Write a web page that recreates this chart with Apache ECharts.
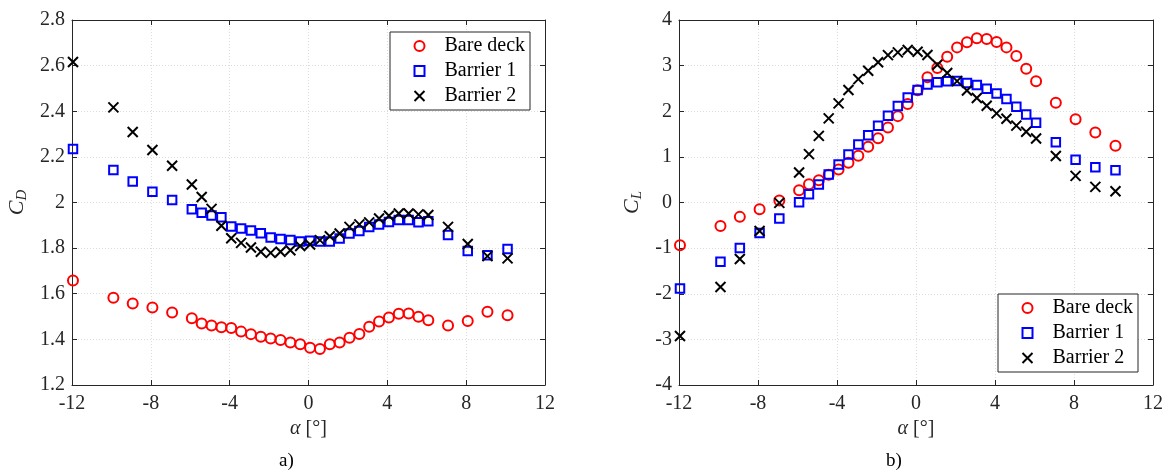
<!DOCTYPE html>
<html>
<head>
<meta charset="utf-8">
<script src="https://cdn.jsdelivr.net/npm/echarts@6/dist/echarts.min.js"></script>
<style>
  html, body { margin: 0; padding: 0; background: #fff; }
  #chart { width: 1168px; height: 474px; }
</style>
</head>
<body>
<div id="chart"></div>
<script>
// Angle of attack [deg] for every measured point
const alpha = [-11.95, -9.9, -8.92, -7.92, -6.92, -5.92, -5.42, -4.92, -4.42, -3.92,
  -3.42, -2.92, -2.42, -1.92, -1.42, -0.92, -0.42, 0.08, 0.58, 1.08,
  1.58, 2.08, 2.58, 3.08, 3.58, 4.08, 4.58, 5.08, 5.58, 6.08,
  7.08, 8.08, 9.08, 10.1];

// Drag coefficient C_D
const cdBare = [1.658, 1.582, 1.557, 1.540, 1.518, 1.493, 1.470, 1.461, 1.453, 1.450,
  1.434, 1.423, 1.411, 1.404, 1.397, 1.386, 1.379, 1.363, 1.358, 1.379,
  1.386, 1.407, 1.424, 1.455, 1.478, 1.496, 1.512, 1.513, 1.499, 1.484,
  1.461, 1.481, 1.521, 1.506];
const cdBarrier1 = [2.234, 2.143, 2.092, 2.047, 2.011, 1.970, 1.955, 1.943, 1.935, 1.895,
  1.886, 1.877, 1.865, 1.847, 1.840, 1.836, 1.829, 1.832, 1.829, 1.829,
  1.842, 1.864, 1.875, 1.893, 1.904, 1.915, 1.923, 1.923, 1.913, 1.918,
  1.858, 1.787, 1.769, 1.796];
const cdBarrier2 = [2.616, 2.417, 2.309, 2.230, 2.161, 2.079, 2.024, 1.972, 1.898, 1.843,
  1.823, 1.803, 1.784, 1.779, 1.784, 1.791, 1.809, 1.816, 1.835, 1.852,
  1.864, 1.893, 1.904, 1.913, 1.930, 1.942, 1.952, 1.952, 1.948, 1.945,
  1.893, 1.818, 1.765, 1.755];

// Lift coefficient C_L
const clBare = [-0.937, -0.515, -0.315, -0.147, 0.044, 0.27, 0.40, 0.489, 0.61, 0.722,
  0.87, 1.024, 1.22, 1.41, 1.645, 1.893, 2.157, 2.46, 2.745, 2.946,
  3.194, 3.40, 3.51, 3.598, 3.583, 3.517, 3.40, 3.21, 2.93, 2.66,
  2.186, 1.827, 1.535, 1.242];
const clBarrier1 = [-1.887, -1.30, -0.995, -0.667, -0.35, 0.007, 0.18, 0.395, 0.614, 0.834,
  1.053, 1.272, 1.476, 1.68, 1.90, 2.113, 2.30, 2.464, 2.585, 2.635,
  2.66, 2.665, 2.617, 2.573, 2.495, 2.39, 2.27, 2.10, 1.93, 1.746,
  1.323, 0.935, 0.774, 0.709];
const clBarrier2 = [-2.927, -1.852, -1.237, -0.623, -0.008, 0.658, 1.06, 1.461, 1.843, 2.172,
  2.464, 2.705, 2.887, 3.075, 3.23, 3.29, 3.341, 3.304, 3.232, 3.02,
  2.84, 2.661, 2.455, 2.29, 2.12, 1.953, 1.835, 1.685, 1.549, 1.404,
  1.02, 0.584, 0.342, 0.248];

const seriesNames = ['Bare deck', 'Barrier 1', 'Barrier 2'];
const xTicks = { min: -12, max: 12, interval: 4 };
const cdTicks = { min: 1.2, max: 2.8, interval: 0.2 };
const clTicks = { min: -4, max: 4, interval: 1 };

const FONT = 'Liberation Serif';
const AXIS_COLOR = '#262626';

const markerStyles = [
  { symbol: 'circle', symbolSize: 10, itemStyle: { color: 'none', borderColor: '#ff0000', borderWidth: 2, opacity: 1 } },
  { symbol: 'rect', symbolSize: 8.5, itemStyle: { color: 'none', borderColor: '#0000ff', borderWidth: 2, opacity: 1 } },
  { symbol: 'path://M0,0L10,10M10,0L0,10', symbolSize: 10, itemStyle: { color: 'none', borderColor: '#000000', borderWidth: 2, opacity: 1 } }
];

function pairs(ys) { return alpha.map((a, i) => [a, ys[i]]); }

function mainX(gridIndex) {
  return {
    type: 'value', gridIndex, position: 'bottom', ...xTicks,
    axisLine: { show: true, onZero: false, lineStyle: { color: AXIS_COLOR, width: 1 } },
    axisTick: { show: true, inside: true, length: 5, lineStyle: { color: AXIS_COLOR } },
    axisLabel: { show: true, margin: 9, fontFamily: FONT, fontSize: 20, color: AXIS_COLOR },
    splitLine: { show: true, lineStyle: { color: '#dcdcdc', type: [1, 2], width: 1 } },
    name: '{i|α} [°]', nameLocation: 'middle', nameGap: 34,
    nameTextStyle: {
      fontFamily: FONT, fontSize: 20, color: AXIS_COLOR,
      rich: { i: { fontFamily: FONT, fontStyle: 'italic', fontSize: 20, color: AXIS_COLOR } }
    }
  };
}
function boxX(gridIndex) {
  return {
    type: 'value', gridIndex, position: 'top', ...xTicks,
    axisLine: { show: true, onZero: false, lineStyle: { color: AXIS_COLOR, width: 1 } },
    axisTick: { show: true, inside: true, length: 5, lineStyle: { color: AXIS_COLOR } },
    axisLabel: { show: false }, splitLine: { show: false }
  };
}
function mainY(gridIndex, ticks, sub, gap) {
  return {
    type: 'value', gridIndex, position: 'left', ...ticks,
    axisLine: { show: true, onZero: false, lineStyle: { color: AXIS_COLOR, width: 1 } },
    axisTick: { show: true, inside: true, length: 5, lineStyle: { color: AXIS_COLOR } },
    axisLabel: { show: true, margin: 7, fontFamily: FONT, fontSize: 20, color: AXIS_COLOR },
    splitLine: { show: true, lineStyle: { color: '#dcdcdc', type: [1, 2], width: 1 } },
    name: '{c|C}{s|' + sub + '}', nameLocation: 'middle', nameGap: gap, nameRotate: 90,
    nameTextStyle: {
      fontFamily: FONT, fontSize: 22, color: AXIS_COLOR,
      rich: {
        c: { fontFamily: FONT, fontStyle: 'italic', fontSize: 22, color: AXIS_COLOR, lineHeight: 30, verticalAlign: 'middle' },
        s: { fontFamily: FONT, fontStyle: 'italic', fontSize: 15, color: AXIS_COLOR, lineHeight: 30, verticalAlign: 'bottom', padding: [0, 0, 2, 0] }
      }
    }
  };
}
function boxY(gridIndex, ticks) {
  return {
    type: 'value', gridIndex, position: 'right', ...ticks,
    axisLine: { show: true, onZero: false, lineStyle: { color: AXIS_COLOR, width: 1 } },
    axisTick: { show: true, inside: true, length: 5, lineStyle: { color: AXIS_COLOR } },
    axisLabel: { show: false }, splitLine: { show: false }
  };
}

function legendAt(left, top) {
  return {
    orient: 'vertical', left, top,
    data: seriesNames,
    itemWidth: 10, itemHeight: 10, itemGap: 5,
    padding: [4, 5, 4, 22],
    backgroundColor: '#ffffff', borderColor: AXIS_COLOR, borderWidth: 1, borderRadius: 0,
    selectedMode: false,
    textStyle: { fontFamily: FONT, fontSize: 20, lineHeight: 20, color: '#000', padding: [0, 0, 0, 15] }
  };
}

const series = [];
[[cdBare, cdBarrier1, cdBarrier2], [clBare, clBarrier1, clBarrier2]].forEach((group, g) => {
  group.forEach((ys, k) => {
    series.push({
      type: 'scatter', name: seriesNames[k],
      xAxisIndex: g * 2, yAxisIndex: g * 2,
      data: pairs(ys),
      ...markerStyles[k],
      animation: false
    });
  });
});

const chart = echarts.init(document.getElementById('chart'), null, { renderer: 'canvas' });
chart.setOption({
  animation: false,
  backgroundColor: '#ffffff',
  grid: [
    { left: 72, top: 20, width: 473, height: 365, containLabel: false },
    { left: 679, top: 20, width: 474, height: 365, containLabel: false }
  ],
  xAxis: [mainX(0), boxX(0), mainX(1), boxX(1)],
  yAxis: [mainY(0, cdTicks, 'D', 40), boxY(0, cdTicks), mainY(1, clTicks, 'L', 32), boxY(1, clTicks)],
  legend: [legendAt(390, 32), legendAt(998, 294)],
  graphic: [
    { type: 'text', left: 279, top: 452, style: { text: 'a)', font: '19px "Liberation Serif"', fill: '#000' } },
    { type: 'text', left: 886, top: 452, style: { text: 'b)', font: '19px "Liberation Serif"', fill: '#000' } }
  ],
  series
});
</script>
</body>
</html>
